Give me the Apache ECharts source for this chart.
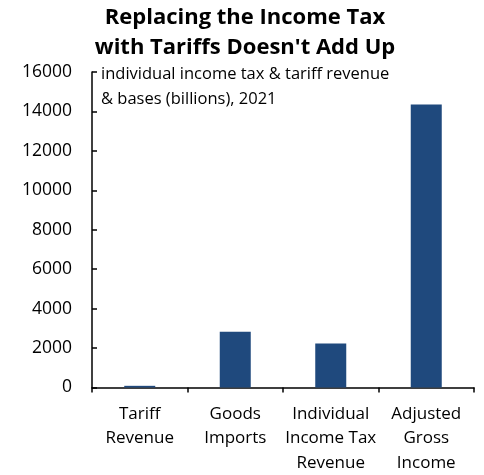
<!DOCTYPE html>
<html>
<head>
<meta charset="utf-8">
<script src="https://cdn.jsdelivr.net/npm/echarts@6/dist/echarts.min.js"></script>
<style>
  html, body { margin: 0; padding: 0; background: #fff; }
  #chart { width: 484px; height: 475px; }
</style>
</head>
<body>
<div id="chart"></div>
<script>
// Revenue and tax bases, 2021, in billions of dollars
const categories = ['Tariff\nRevenue', 'Goods\nImports', 'Individual\nIncome Tax\nRevenue', 'Adjusted\nGross\nIncome'];
const values = [85, 2830, 2230, 14350];
const yTicks = [0, 2000, 4000, 6000, 8000, 10000, 12000, 14000, 16000];

const FONT = '"Open Sans"';
const chart = echarts.init(document.getElementById('chart'));
chart.setOption({
  animation: false,
  textStyle: { fontFamily: FONT },
  title: [
    {
      text: "Replacing the Income Tax\nwith Tariffs Doesn't Add Up",
      left: 245, top: 3, padding: 0, textAlign: 'center',
      textStyle: { fontFamily: FONT, fontWeight: 'bold', fontSize: 22, lineHeight: 29.5, color: '#000' }
    },
    {
      text: 'individual income tax & tariff revenue\n& bases (billions), 2021',
      left: 101, top: 62, padding: 0,
      textStyle: { fontFamily: FONT, fontWeight: 'normal', fontSize: 16.5, lineHeight: 25, color: '#000' }
    }
  ],
  grid: { left: 92, right: 10, top: 72, bottom: 83 },
  xAxis: {
    type: 'category',
    data: categories,
    axisLine: { lineStyle: { color: '#000', width: 1.5 } },
    axisTick: { show: true, length: 5, lineStyle: { color: '#000', width: 1.5 } },
    axisLabel: { color: '#000', fontSize: 17, lineHeight: 24.5, margin: 14, interval: 0 }
  },
  yAxis: {
    type: 'value',
    min: yTicks[0], max: yTicks[yTicks.length - 1], interval: 2000,
    axisLine: { show: true, lineStyle: { color: '#000', width: 1.5 } },
    axisTick: { show: true, inside: true, length: 5, lineStyle: { color: '#000', width: 1.5 } },
    axisLabel: { color: '#000', fontSize: 17.5, margin: 20, formatter: v => String(v) },
    splitLine: { show: false }
  },
  series: [{
    type: 'bar',
    data: values,
    barWidth: 31,
    itemStyle: { color: '#1f497d' }
  }]
});
</script>
</body>
</html>
